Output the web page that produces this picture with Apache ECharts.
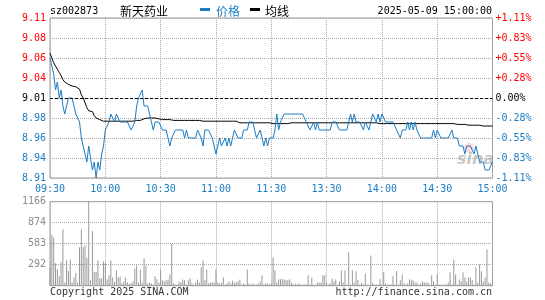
<!DOCTYPE html>
<html><head><meta charset="utf-8">
<script src="https://cdn.jsdelivr.net/npm/echarts@6/dist/echarts.min.js"></script>
<style>html,body{margin:0;padding:0;background:#fff}#c{width:545px;height:300px}</style>
</head><body><div id="c"></div>
<script>
const stockCode = 'sz002873';
const stockName = '新天药业';
const stampText = '2025-05-09 15:00:00';
const prevClose = 9.01;
const priceMin = 8.91, priceMax = 9.11;
const volMax = 1166;

const leftLabels = ['8.91','8.94','8.96','8.98','9.01','9.04','9.06','9.08','9.11'];
const rightLabels = ['-1.11%','-0.83%','-0.55%','-0.28%','0.00%','+0.28%','+0.55%','+0.83%','+1.11%'];
const volLabels = ['','292','583','874','1166'];

// minute categories: 09:30-11:30, 13:01-15:00
const times = [];
function pad(n){return (n<10?'0':'')+n;}
for (let m = 570; m <= 690; m++) times.push(pad(Math.floor(m/60))+':'+pad(m%60));
for (let m = 781; m <= 900; m++) times.push(pad(Math.floor(m/60))+':'+pad(m%60));

const price = [
 9.06,9.05,9.04,9.02,9.03,9.01,9.02,9.00,8.99,9.00,
 9.01,9.01,9.01,9.00,8.99,8.99,8.98,8.96,8.95,8.94,
 8.93,8.95,8.95,8.92,8.93,8.91,8.93,8.92,8.94,8.95,
 8.97,8.97,8.98,8.99,8.99,8.98,8.99,8.99,8.98,8.98,
 8.98,8.98,8.98,8.98,8.97,8.97,8.98,9.00,9.01,9.01,
 9.02,9.00,9.00,9.00,9.00,8.98,8.97,8.98,8.98,8.98,
 8.98,8.97,8.97,8.97,8.96,8.95,8.96,8.96,8.97,8.97,
 8.97,8.97,8.97,8.96,8.97,8.96,8.96,8.96,8.96,8.96,
 8.97,8.97,8.96,8.95,8.97,8.97,8.97,8.97,8.96,8.95,
 8.94,8.94,8.96,8.95,8.95,8.96,8.95,8.96,8.95,8.96,
 8.97,8.97,8.96,8.96,8.96,8.97,8.97,8.97,8.98,8.98,
 8.98,8.97,8.96,8.96,8.97,8.97,8.95,8.96,8.95,8.96,
 8.96,8.96,8.97,8.99,8.97,8.98,8.98,8.99,8.99,8.99,
 8.99,8.99,8.99,8.99,8.99,8.99,8.99,8.99,8.99,8.98,
 8.98,8.97,8.97,8.98,8.97,8.98,8.97,8.97,8.97,8.97,
 8.97,8.97,8.97,8.98,8.98,8.98,8.98,8.97,8.97,8.97,
 8.97,8.97,8.98,8.99,8.98,8.99,8.98,8.98,8.98,8.98,
 8.97,8.98,8.98,8.97,8.98,8.99,8.99,8.98,8.99,8.98,
 8.99,8.99,8.98,8.98,8.98,8.98,8.98,8.98,8.97,8.97,
 8.96,8.97,8.97,8.97,8.98,8.97,8.98,8.97,8.98,8.97,
 8.97,8.96,8.96,8.96,8.96,8.96,8.96,8.96,8.97,8.96,
 8.97,8.97,8.96,8.96,8.96,8.96,8.96,8.96,8.97,8.96,
 8.96,8.96,8.95,8.95,8.95,8.94,8.95,8.95,8.95,8.95,
 8.94,8.95,8.94,8.93,8.93,8.93,8.92,8.92,8.92,8.92,
 8.93
];

const avgPrice = [
 9.066,9.060,9.054,9.050,9.046,9.042,9.038,9.033,9.030,9.029,
 9.027,9.025,9.025,9.024,9.024,9.024,9.021,9.014,9.010,9.004,
 8.998,8.994,8.994,8.993,8.988,8.985,8.984,8.983,8.982,8.981,
 8.981,8.981,8.981,8.981,8.981,8.981,8.981,8.981,8.981,8.981,
 8.981,8.981,8.981,8.981,8.981,8.981,8.982,8.982,8.982,8.982,
 8.982,8.984,8.984,8.985,8.985,8.985,8.985,8.985,8.984,8.984,
 8.983,8.983,8.983,8.983,8.983,8.983,8.982,8.982,8.982,8.982,
 8.982,8.982,8.982,8.982,8.982,8.982,8.982,8.982,8.982,8.982,
 8.982,8.982,8.981,8.981,8.981,8.981,8.981,8.981,8.981,8.981,
 8.981,8.981,8.981,8.981,8.981,8.981,8.981,8.981,8.981,8.981,
 8.981,8.981,8.979,8.979,8.979,8.979,8.979,8.979,8.979,8.979,
 8.979,8.979,8.979,8.979,8.979,8.979,8.979,8.979,8.979,8.979,
 8.979,8.978,8.978,8.978,8.978,8.978,8.978,8.978,8.978,8.978,
 8.979,8.979,8.979,8.979,8.979,8.979,8.979,8.979,8.979,8.979,
 8.979,8.979,8.979,8.979,8.979,8.979,8.979,8.979,8.979,8.979,
 8.979,8.979,8.979,8.979,8.979,8.979,8.979,8.979,8.979,8.979,
 8.979,8.979,8.979,8.979,8.979,8.979,8.979,8.979,8.979,8.979,
 8.979,8.979,8.979,8.979,8.979,8.979,8.979,8.979,8.979,8.978,
 8.978,8.978,8.978,8.978,8.978,8.978,8.978,8.978,8.978,8.978,
 8.978,8.978,8.978,8.978,8.978,8.978,8.978,8.978,8.978,8.978,
 8.978,8.978,8.978,8.978,8.978,8.978,8.978,8.978,8.978,8.978,
 8.978,8.978,8.978,8.978,8.978,8.978,8.978,8.978,8.978,8.978,
 8.977,8.977,8.977,8.977,8.977,8.977,8.977,8.976,8.976,8.976,
 8.976,8.976,8.976,8.976,8.975,8.975,8.975,8.975,8.975,8.975,
 8.975
];

const volume = [
 250,700,670,310,230,130,325,785,45,355,
 205,365,45,110,175,45,535,785,535,560,
 385,1166,75,760,190,190,355,105,105,340,
 310,85,140,355,115,50,215,115,130,30,
 60,115,45,30,30,60,240,280,45,225,
 45,380,280,30,45,30,15,130,90,45,
 225,75,60,75,85,155,580,30,15,15,
 60,45,85,75,15,75,100,30,15,45,
 85,45,255,350,75,225,30,45,45,45,
 225,45,30,45,115,15,30,60,30,70,
 45,45,60,85,15,30,15,225,30,15,
 30,15,15,30,60,140,15,30,30,15,
 30,395,215,45,90,90,90,90,75,75,
 90,45,15,30,15,30,15,15,15,15,
 145,15,115,15,15,45,45,45,145,145,
 45,15,30,100,60,90,15,60,215,45,
 215,15,465,15,215,45,200,75,15,45,
 15,170,15,15,420,45,15,15,15,90,
 15,185,30,15,15,15,130,15,200,15,
 75,155,30,15,30,90,75,75,45,45,
 15,30,60,45,45,45,15,145,60,15,
 155,15,15,15,15,15,45,185,15,365,
 155,15,90,60,185,115,60,115,115,75,
 15,255,45,295,200,60,115,505,45,30,
 45
];

const FONT = 'DejaVu Sans Mono';
const BLUE = '#1a7dc4';
const RED = '#ff0000';
const GRIDC = '#a8a8a8';
const dotted = {color: GRIDC, type: [1, 1], width: 1};
const every30 = function (idx) { return idx % 30 === 0; };

function colorFor(k) { return k > 4 ? 'r' : (k < 4 ? 'b' : 'k'); }
const rich = {
  r: {color: RED, fontFamily: FONT, fontSize: 10},
  b: {color: BLUE, fontFamily: FONT, fontSize: 10},
  k: {color: '#000', fontFamily: FONT, fontSize: 10}
};

const chart = echarts.init(document.getElementById('c'), null, {renderer: 'canvas'});
chart.setOption({
  animation: false,
  backgroundColor: '#fff',
  grid: [
    {left: 50, right: 52.5, top: 18, height: 160, show: true, borderColor: '#999', borderWidth: 1, backgroundColor: 'transparent'},
    {left: 50, right: 52.5, top: 201.7, height: 84, show: true, borderColor: '#999', borderWidth: 1, backgroundColor: 'transparent'}
  ],
  xAxis: [
    {type: 'category', gridIndex: 0, data: times, boundaryGap: false,
     axisLine: {show: false, onZero: false}, axisTick: {show: false},
     axisLabel: {interval: every30, color: BLUE, fontFamily: FONT, fontSize: 10, margin: 6, showMinLabel: true, showMaxLabel: true},
     splitLine: {show: true, interval: every30, lineStyle: dotted}},
    {type: 'category', gridIndex: 1, data: times, boundaryGap: false,
     axisLine: {show: false, onZero: false}, axisTick: {show: false}, axisLabel: {show: false},
     splitLine: {show: true, interval: every30, lineStyle: dotted}}
  ],
  yAxis: [
    {type: 'value', gridIndex: 0, min: priceMin, max: priceMax, show: false, position: 'left', splitLine: {show: false}},
    {type: 'value', gridIndex: 0, position: 'left', min: -4, max: 4, interval: 1,
     axisLine: {show: false}, axisTick: {show: false},
     axisLabel: {margin: 4, formatter: function (v) { const k = Math.round(v) + 4; return '{' + colorFor(k) + '|' + leftLabels[k] + '}'; }, rich: rich},
     splitLine: {show: true, lineStyle: dotted}},
    {type: 'value', gridIndex: 0, position: 'right', min: -4, max: 4, interval: 1,
     axisLine: {show: false}, axisTick: {show: false},
     axisLabel: {margin: 3, formatter: function (v) { const k = Math.round(v) + 4; return '{' + colorFor(k) + '|' + rightLabels[k] + '}'; }, rich: rich},
     splitLine: {show: false}},
    {type: 'value', gridIndex: 1, position: 'left', min: 0, max: volMax, interval: volMax / 4,
     axisLine: {show: false}, axisTick: {show: false},
     axisLabel: {margin: 4, color: '#8c8c8c', fontFamily: FONT, fontSize: 10,
       formatter: function (v) { return volLabels[Math.round(v / (volMax / 4))]; }},
     splitLine: {show: true, lineStyle: dotted}}
  ],
  series: [
    {type: 'line', name: '价格', xAxisIndex: 0, yAxisIndex: 0, data: price, showSymbol: false,
     lineStyle: {color: BLUE, width: 1}, itemStyle: {color: BLUE}, z: 3,
     markLine: {silent: true, symbol: 'none', label: {show: false},
       lineStyle: {color: '#000', type: [3, 2], width: 1}, data: [{yAxis: prevClose}]}},
    {type: 'line', name: '均线', xAxisIndex: 0, yAxisIndex: 0, data: avgPrice, showSymbol: false,
     lineStyle: {color: '#000', width: 1}, itemStyle: {color: '#000'}, z: 2},
    {type: 'bar', xAxisIndex: 1, yAxisIndex: 3, data: volume, barWidth: 1,
     itemStyle: {color: '#999'}}
  ],
  graphic: [
    {type: 'text', left: 50, top: 6, style: {text: stockCode, font: '10px "' + FONT + '"', fill: '#000'}},
    {type: 'text', left: 120, top: 5, style: {text: stockName, font: '12px "Noto Sans CJK SC"', fill: '#000'}},
    {type: 'rect', left: 200, top: 8, shape: {width: 10, height: 3}, style: {fill: BLUE}},
    {type: 'text', left: 216, top: 5, style: {text: '价格', font: '12px "Noto Sans CJK SC"', fill: BLUE}},
    {type: 'rect', left: 250, top: 8, shape: {width: 10, height: 3}, style: {fill: '#000'}},
    {type: 'text', left: 265, top: 5, style: {text: '均线', font: '12px "Noto Sans CJK SC"', fill: '#000'}},
    {type: 'text', right: 53, top: 6, style: {text: stampText, font: '10px "' + FONT + '"', fill: '#000'}},
    {type: 'circle', left: 464, top: 143, shape: {r: 5}, style: {fill: 'rgba(255,150,150,0.35)'}},
    {type: 'text', left: 457, top: 152, style: {text: 'sina', font: 'italic bold 16px "DejaVu Sans"', fill: 'rgba(130,130,130,0.45)'}},
    {type: 'text', left: 50, top: 287, style: {text: 'Copyright 2025 SINA.COM', font: '10px "' + FONT + '"', fill: '#333'}},
    {type: 'text', right: 53, top: 287, style: {text: 'http://finance.sina.com.cn', font: '10px "' + FONT + '"', fill: '#333'}}
  ]
});
</script>
</body></html>
